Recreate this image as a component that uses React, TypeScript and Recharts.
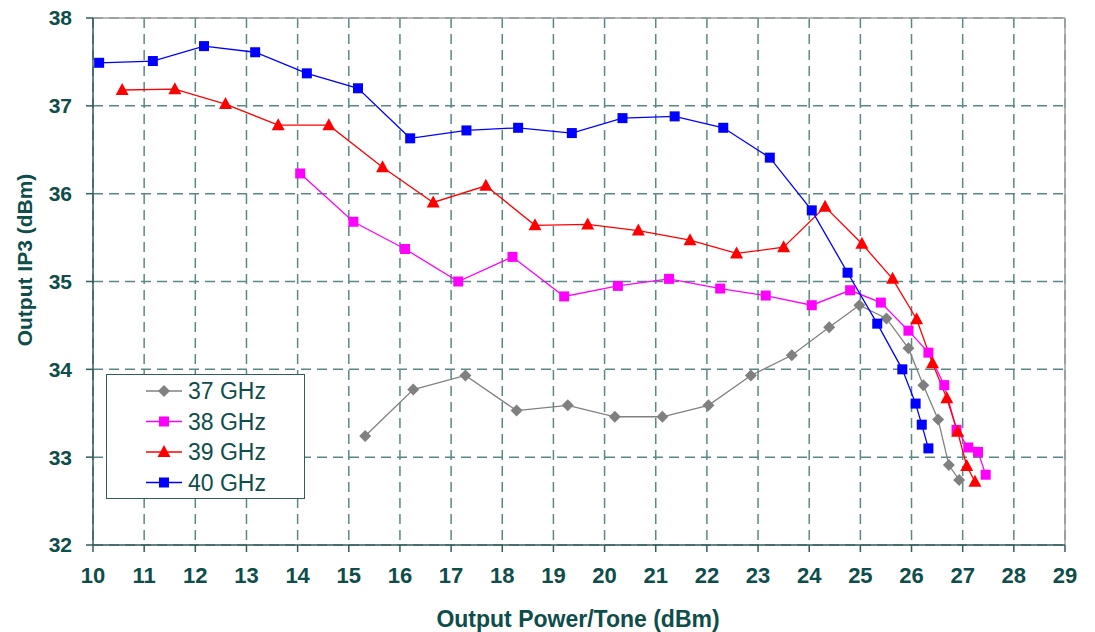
import React from 'react';
import { LineChart, Line, XAxis, YAxis, CartesianGrid, ReferenceLine } from 'recharts';

// Output IP3 vs output power per tone, four frequencies
const x37 = [15.32, 16.26, 17.28, 18.28, 19.28, 20.2, 21.13, 22.03, 22.86, 23.66, 24.39, 24.98, 25.51, 25.94, 26.23, 26.52, 26.73, 26.93];
const y37 = [33.24, 33.77, 33.93, 33.53, 33.59, 33.46, 33.46, 33.59, 33.93, 34.16, 34.48, 34.73, 34.58, 34.24, 33.82, 33.43, 32.91, 32.74];

const x38 = [14.05, 15.09, 16.1, 17.14, 18.2, 19.21, 20.26, 21.26, 22.26, 23.15, 24.05, 24.8, 25.4, 25.94, 26.33, 26.64, 26.88, 27.11, 27.3, 27.45];
const y38 = [36.23, 35.68, 35.37, 35.0, 35.28, 34.83, 34.95, 35.03, 34.92, 34.84, 34.73, 34.9, 34.76, 34.44, 34.19, 33.82, 33.31, 33.11, 33.06, 32.8];

const x39 = [10.57, 11.6, 12.59, 13.62, 14.61, 15.66, 16.65, 17.68, 18.64, 19.67, 20.66, 21.67, 22.58, 23.5, 24.31, 25.03, 25.63, 26.1, 26.41, 26.69, 26.9, 27.08, 27.24];
const y39 = [37.18, 37.19, 37.02, 36.78, 36.78, 36.3, 35.9, 36.09, 35.64, 35.65, 35.58, 35.47, 35.32, 35.39, 35.85, 35.43, 35.03, 34.57, 34.07, 33.67, 33.29, 32.9, 32.72];

const x40 = [10.12, 11.17, 12.17, 13.17, 14.18, 15.18, 16.2, 17.3, 18.31, 19.36, 20.35, 21.37, 22.32, 23.23, 24.05, 24.75, 25.33, 25.82, 26.08, 26.2, 26.33];
const y40 = [37.49, 37.51, 37.68, 37.61, 37.37, 37.2, 36.63, 36.72, 36.75, 36.69, 36.86, 36.88, 36.75, 36.41, 35.81, 35.1, 34.52, 34.0, 33.61, 33.37, 33.1];

const xTicks = [10, 11, 12, 13, 14, 15, 16, 17, 18, 19, 20, 21, 22, 23, 24, 25, 26, 27, 28, 29];
const yTicks = [32, 33, 34, 35, 36, 37, 38];

const TEAL = '#0d4d4a';
const AXIS = '#2f5e5c';
const FONT = "Arial, 'Liberation Sans', sans-serif";

const toPoints = (xs: number[], ys: number[]) => xs.map((x, i) => ({ x, y: ys[i] }));

type Shape = 'diamond' | 'square' | 'triangle';

const series = [
  { name: '37 GHz', color: '#808080', shape: 'diamond' as Shape, data: toPoints(x37, y37) },
  { name: '38 GHz', color: '#ff00ff', shape: 'square' as Shape, data: toPoints(x38, y38) },
  { name: '39 GHz', color: '#ff0000', shape: 'triangle' as Shape, data: toPoints(x39, y39) },
  { name: '40 GHz', color: '#0000ff', shape: 'square' as Shape, data: toPoints(x40, y40) },
];

function Marker({ cx, cy, shape, color }: { cx: number; cy: number; shape: Shape; color: string }) {
  if (shape === 'diamond') {
    return <path d={`M${cx},${cy - 6}L${cx + 6},${cy}L${cx},${cy + 6}L${cx - 6},${cy}Z`} fill={color} />;
  }
  if (shape === 'triangle') {
    return <path d={`M${cx},${cy - 7}L${cx + 6.5},${cy + 5}L${cx - 6.5},${cy + 5}Z`} fill={color} />;
  }
  return <rect x={cx - 5} y={cy - 5} width={10} height={10} fill={color} />;
}

const makeDot = (shape: Shape, color: string) => (props: any) => {
  const { cx, cy, index } = props;
  if (cx == null || cy == null) return <g key={index} />;
  return <Marker key={index} cx={cx} cy={cy} shape={shape} color={color} />;
};

function LegendBox() {
  return (
    <svg width={200} height={126} style={{ display: 'block' }}>
      <rect x={0.5} y={0.5} width={198} height={124} fill="#fff" stroke={AXIS} strokeWidth={1} />
      {series.map((s, i) => {
        const cy = 17 + i * 30.5;
        return (
          <g key={s.name}>
            <line x1={40} x2={76} y1={cy} y2={cy} stroke={s.color} strokeWidth={1.3} />
            <Marker cx={58} cy={cy} shape={s.shape} color={s.color} />
            <text x={82} y={cy + 8} fontSize={23} fill={TEAL} fontFamily={FONT}>
              {s.name}
            </text>
          </g>
        );
      })}
    </svg>
  );
}

export default function App() {
  return (
    <div style={{ position: 'absolute', left: 0, top: 0, width: 1095, height: 632, background: '#fff' }}>
      <LineChart width={1095} height={632} margin={{ top: 18, right: 30, left: 0, bottom: 0 }}>
        <CartesianGrid stroke="#5a8888" strokeWidth={1.5} strokeDasharray="10 6" horizontalValues={yTicks} verticalValues={xTicks} />
        <ReferenceLine y={38} stroke="#a0a0a0" strokeWidth={1.5} />
        <ReferenceLine x={29} stroke="#a0a0a0" strokeWidth={1.5} />
        <XAxis
          type="number"
          dataKey="x"
          domain={[10, 29]}
          ticks={xTicks}
          interval={0}
          height={87}
          stroke={AXIS}
          strokeWidth={1.5}
          tickSize={7}
          tickMargin={15}
          tick={{ fill: TEAL, fontSize: 22, fontWeight: 700, fontFamily: FONT }}
          label={() => (
            <text x={578} y={627} textAnchor="middle" fill={TEAL} fontSize={23} fontWeight={700} fontFamily={FONT}>
              Output Power/Tone (dBm)
            </text>
          )}
          allowDataOverflow
        />
        <YAxis
          type="number"
          domain={[32, 38]}
          ticks={yTicks}
          interval={0}
          width={93}
          stroke={AXIS}
          strokeWidth={1.5}
          tickSize={7}
          tickMargin={14}
          tick={{ fill: TEAL, fontSize: 21, fontWeight: 700, fontFamily: FONT }}
          label={() => (
            <text x={0} y={0} transform="translate(32,260) rotate(-90)" textAnchor="middle" fill={TEAL} fontSize={21} fontWeight={700} fontFamily={FONT}>
              Output IP3 (dBm)
            </text>
          )}
          allowDataOverflow
        />
        {series.map(s => (
          <Line
            key={s.name}
            data={s.data}
            dataKey="y"
            name={s.name}
            type="linear"
            stroke={s.color}
            strokeWidth={1.3}
            dot={makeDot(s.shape, s.color)}
            activeDot={false}
            isAnimationActive={false}
          />
        ))}
      </LineChart>
      <div style={{ position: 'absolute', left: 106, top: 374 }}>
        <LegendBox />
      </div>
    </div>
  );
}
